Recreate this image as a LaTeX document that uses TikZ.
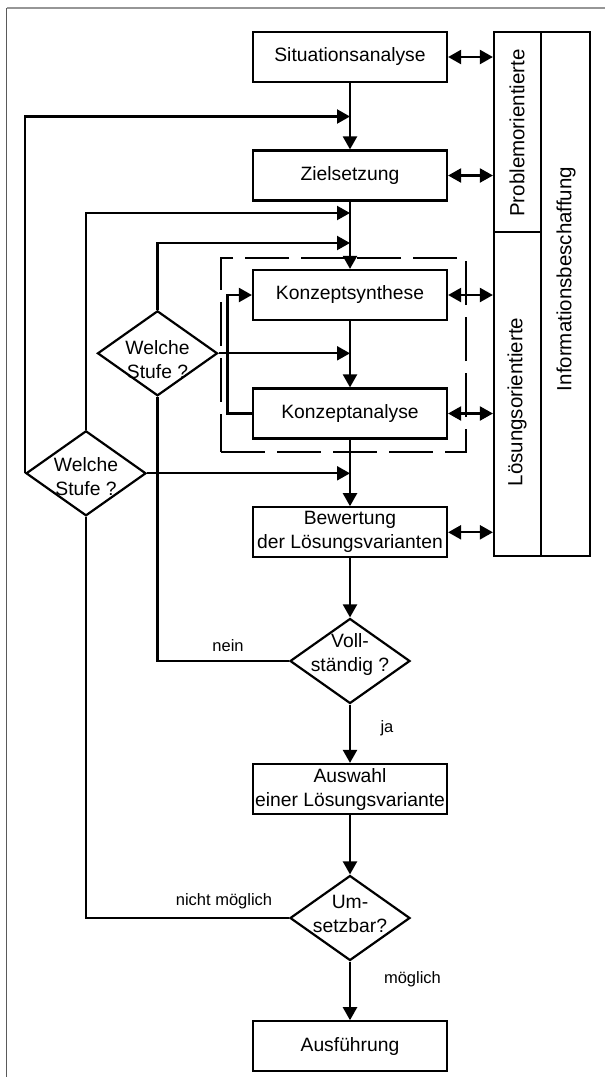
\documentclass[tikz,border=0pt]{standalone}
\usepackage{fontspec}
\setmainfont{Liberation Sans}
\usetikzlibrary{arrows.meta,shapes.geometric}

\definecolor{frameleft}{RGB}{90,90,90}
\definecolor{frametop}{RGB}{150,150,150}

\begin{document}
\begin{tikzpicture}[x=1pt,y=-1pt,
  line width=2.2pt,
  every node/.style={font=\fontsize{19.3}{24}\selectfont},
  stepbox/.style={draw, rectangle, minimum width=194pt, minimum height=50pt,
    inner sep=0pt, align=center},
  decision/.style={draw, diamond, minimum width=120pt, minimum height=85pt,
    inner sep=0pt},
  dtext/.style={align=center, inner sep=0pt},
  cell/.style={draw, rectangle, inner sep=0pt},
  paneltext/.style={rotate=90, font=\fontsize{20.5}{24}\selectfont, inner sep=0pt},
  lbl/.style={font=\fontsize{16.5}{20}\selectfont, inner sep=0pt},
  arr/.style={-{Triangle[length=13pt,width=14pt]}},
  dblarr/.style={{Triangle[length=13pt,width=14pt]}-{Triangle[length=13pt,width=14pt]}},
  groupbox/.style={draw, rectangle, dash pattern=on 44pt off 12pt, inner sep=0pt}
]
\useasboundingbox (0,0) rectangle (605,1077);

% outer frame
\draw[frameleft, line width=1.3pt] (6.7,1077) -- (6.7,8);
\draw[frametop, line width=1.3pt] (6.7,8) -- (605,8);

% main column
\node[stepbox] (sit)  at (350,57)     {Situationsanalyse};
\node[stepbox] (ziel) at (350,175.5)  {Zielsetzung};
\node[groupbox, minimum width=245pt, minimum height=194pt] (grp) at (343.5,355) {};
\node[stepbox] (ksyn) at (350,295)    {Konzeptsynthese};
\node[stepbox] (kana) at (350,413.5)  {Konzeptanalyse};
\node[stepbox] (bew)  at (350,532.3)  {Bewertung\\der Lösungsvarianten};
\node[decision] (voll) at (350,661) {};
\node[dtext, yshift=7pt] (vollt) at (voll.center) {Voll-\\ständig ?};
\node[stepbox] (ausw) at (350,789)    {Auswahl\\einer Lösungsvariante};
\node[decision] (ums) at (350,918) {};
\node[dtext, yshift=4pt] (umst) at (ums.center) {Um-\\setzbar?};
\node[stepbox] (ausf) at (350,1046.3) {Ausführung};

% decision nodes on the left
\node[decision] (w1) at (157.5,353.3) {};
\node[dtext, yshift=-6pt] (w1t) at (w1.center) {Welche\\Stufe ?};
\node[decision] (w2) at (86,473.3) {};
\node[dtext, yshift=-3pt] (w2t) at (w2.center) {Welche\\Stufe ?};

% information panel
\node[cell, minimum width=47pt, minimum height=200pt] (prob) at (517.5,132) {};
\node[cell, minimum width=47pt, minimum height=324pt] (loes) at (517.5,394) {};
\node[cell, minimum width=49pt, minimum height=524pt] (info) at (565.5,294) {};
\node[paneltext] (probt) at (517,133) {Problemorientierte};
\node[paneltext] (loest) at (517,402) {Lösungsorientierte};
\node[paneltext] (infot) at (566,279) {Informationsbeschaffung};

% junctions on the main line
\coordinate (j1) at (350,116.5);
\coordinate (j2) at (350,213);
\coordinate (j3) at (350,243);

% main flow
\draw[arr] (sit) -- (ziel);
\draw[arr] (ziel) -- (ksyn);
\draw[arr] (ksyn) -- (kana);
\draw[arr] (kana) -- (bew);
\draw[arr] (bew) -- (voll);
\draw[arr] (voll) -- (ausw);
\draw[arr] (ausw) -- (ums);
\draw[arr] (ums) -- (ausf);
\node[lbl] (ja) at (387,728) {ja};
\node[lbl] (moegl) at (412.5,979) {möglich};

% inner loop synthesis / analysis
\draw[arr] (kana.west) -- ++(-24.5,0) |- (ksyn.west);

% feedback loops
\draw[arr] (w2.west) |- (j1);
\draw[arr] (w2.north) |- (j2);
\draw[arr] (w1.north) |- (j3);
\draw[arr] (w1.east) -- (w1.east -| ksyn.south);
\draw[arr] (w2.east) -- (w2.east -| kana.south);
\draw (voll.west) -| (w1.south);
\draw (ums.west) -| (w2.south);
\node[lbl] (nein) at (228,646) {nein};
\node[lbl] (nichtm) at (224,901) {nicht möglich};

% links to information panel
\draw[dblarr] (sit.east) -- (sit.east -| prob.west);
\draw[dblarr] (ziel.east) -- (ziel.east -| prob.west);
\draw[dblarr] (ksyn.east) -- (ksyn.east -| loes.west);
\draw[dblarr] (kana.east) -- (kana.east -| loes.west);
\draw[dblarr] (bew.east) -- (bew.east -| loes.west);
\end{tikzpicture}
\end{document}
